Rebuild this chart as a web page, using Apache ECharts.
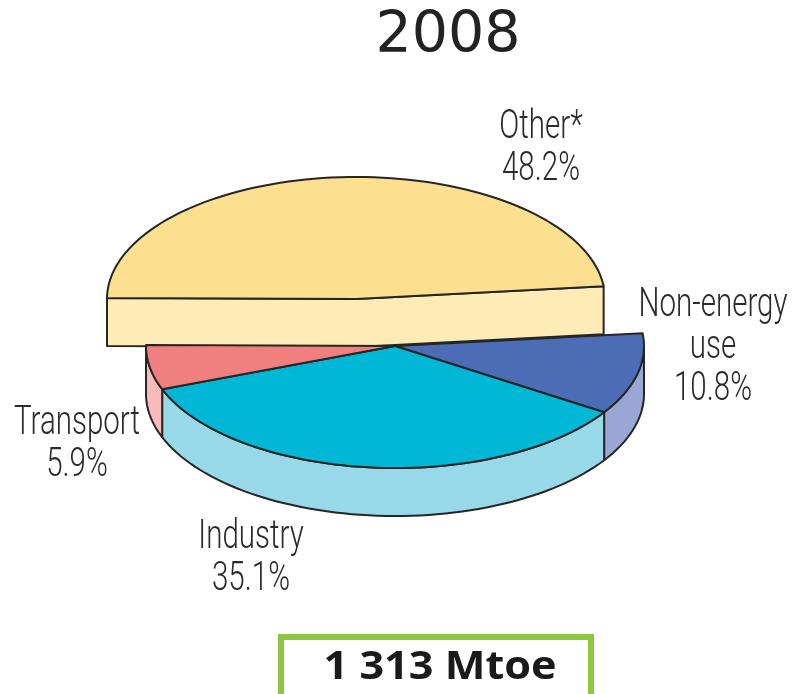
<!DOCTYPE html>
<html>
<head>
<meta charset="utf-8">
<script src="https://cdn.jsdelivr.net/npm/echarts@6/dist/echarts.min.js"></script>
<style>
  html, body { margin: 0; padding: 0; background: #fff; }
  #chart { width: 796px; height: 694px; }
</style>
</head>
<body>
<div id="chart"></div>
<script>
// values, clockwise from the right edge
var categories = ['Non-energy\nuse', 'Industry', 'Transport', 'Other*'];
var shares = [10.8, 35.1, 5.9, 48.2];
var yearLabel = '2008';
var totalLabel = '1 313 Mtoe';

// drawing setup (positions / styles only)
var pie = { cx: 395, cy: 346, rx: 249, ry: 122, depth: 48, startAngle: 6 };
var explode = [[0, 0], [0, 0], [0, 0], [-39, -47]];
var labelPos = [[713, 348], [251, 559], [77, 445], [541, 149]];
var topColors = ['#4B6DB5', '#00B8D6', '#F08080', '#FDDF90'];
var sideColors = ['#9AA6D6', '#97D8E9', '#F9BBB8', '#FEEBB6'];
var edge = '#262626';
var edgeWidth = 2;

var total = shares.reduce(function (a, b) { return a + b; }, 0);

function pt(cx, cy, deg, dy) {
  var r = deg * Math.PI / 180;
  return [cx + pie.rx * Math.cos(r), cy - pie.ry * Math.sin(r) + (dy || 0)];
}

function arc(cx, cy, from, to, dy) {
  var n = Math.max(2, Math.ceil(Math.abs(to - from) / 2));
  var pts = [];
  for (var i = 0; i <= n; i++) {
    pts.push(pt(cx, cy, from + (to - from) * i / n, dy));
  }
  return pts;
}

// parts of [a1, a0] that lie on the front half (sin < 0)
function frontParts(a0, a1) {
  var out = [];
  for (var k = -2; k <= 2; k++) {
    var lo = -180 + k * 360, hi = 0 + k * 360;
    var s = Math.max(a1, lo), e = Math.min(a0, hi);
    if (e > s) out.push([e, s]);
  }
  return out;
}

function faceStyle(fill) {
  return { fill: fill, stroke: edge, lineWidth: edgeWidth, lineJoin: 'round' };
}

function renderItem(params, api) {
  var i = params.dataIndex;
  var before = 0;
  for (var j = 0; j < i; j++) before += shares[j];
  var v = api.value(0);
  var a0 = pie.startAngle - before / total * 360;
  var a1 = a0 - v / total * 360;
  var cx = pie.cx + explode[i][0];
  var cy = pie.cy + explode[i][1];
  var isOut = explode[i][0] !== 0 || explode[i][1] !== 0;
  var zBase = isOut ? 0 : 2;
  var d = pie.depth;
  var children = [];

  // cut face of a pulled-out slice, drawn as one piece
  if (isOut) {
    var p0 = pt(cx, cy, a0), p1 = pt(cx, cy, a1);
    children.push({
      type: 'polygon', z2: zBase,
      shape: { points: [p0, [cx, cy], p1, [p1[0], p1[1] + d], [cx, cy + d], [p0[0], p0[1] + d]] },
      style: faceStyle(sideColors[i])
    });
  }

  // outer wall
  frontParts(a0, a1).forEach(function (r) {
    children.push({
      type: 'polygon', z2: zBase,
      shape: { points: arc(cx, cy, r[0], r[1], 0).concat(arc(cx, cy, r[1], r[0], d)) },
      style: faceStyle(sideColors[i])
    });
  });

  // top face
  children.push({
    type: 'polygon', z2: zBase + 1,
    shape: { points: [[cx, cy]].concat(arc(cx, cy, a0, a1, 0)) },
    style: faceStyle(topColors[i])
  });

  // label
  children.push({
    type: 'text', z2: 10,
    x: labelPos[i][0], y: labelPos[i][1], scaleX: 0.72,
    style: {
      text: categories[i] + '\n' + v.toFixed(1) + '%',
      fill: '#2b2b2b',
      font: '300 41px Roboto, "DejaVu Sans", sans-serif',
      lineHeight: 42,
      align: 'center',
      verticalAlign: 'middle'
    }
  });

  return { type: 'group', children: children };
}

var chart = echarts.init(document.getElementById('chart'));
chart.setOption({
  backgroundColor: '#ffffff',
  animation: false,
  title: {
    text: yearLabel,
    left: 443,
    top: 4,
    textAlign: 'center',
    textStyle: { fontFamily: 'DejaVu Sans', fontSize: 57, fontWeight: 'normal', color: '#222' }
  },
  graphic: [
    {
      type: 'rect',
      shape: { x: 281, y: 637, width: 310, height: 70 },
      style: { fill: '#fff', stroke: '#8DC63F', lineWidth: 6 }
    },
    {
      type: 'text',
      x: 440, y: 668,
      scaleX: 1.08,
      style: {
        text: totalLabel,
        font: 'bold 40px "Open Sans", sans-serif',
        fill: '#1a1a1a',
        align: 'center',
        verticalAlign: 'middle'
      }
    }
  ],
  series: [{
    type: 'custom',
    coordinateSystem: 'none',
    silent: true,
    renderItem: renderItem,
    data: shares.map(function (v, i) { return { name: categories[i], value: [v] }; })
  }]
});
</script>
</body>
</html>
